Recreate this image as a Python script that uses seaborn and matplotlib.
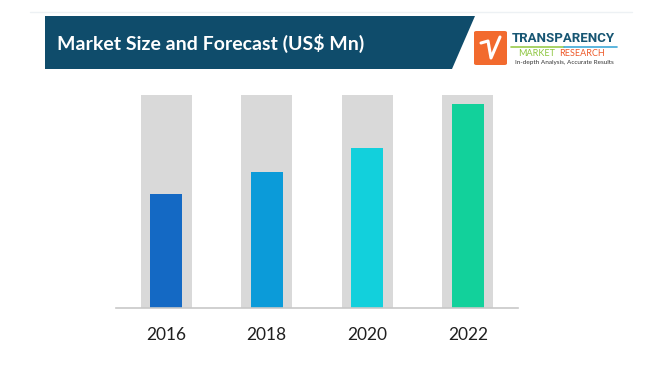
import matplotlib
matplotlib.use("Agg")
import matplotlib.pyplot as plt
import seaborn as sns
import pandas as pd
from matplotlib.patches import Polygon, FancyBboxPatch
from matplotlib.lines import Line2D

# ========================
# DATA (share of full scale)
# ========================
years = ["2016", "2018", "2020", "2022"]
market_size = [53.5, 64, 75, 96]
full_scale = [100, 100, 100, 100]
bar_colors = ["#1469c4", "#0b9bd9", "#12d0dc", "#12d19b"]

df = pd.DataFrame({"Year": years, "Size": market_size, "Scale": full_scale})

sns.set_style("white")
plt.rcParams["font.family"] = ["Lato", "DejaVu Sans"]

W, H = 650, 365
fig = plt.figure(figsize=(W / 100, H / 100), dpi=100)
fig.patch.set_facecolor("white")


def fx(x):
    return x / W


def fy(y):
    return 1 - y / H


# chart area
ax = fig.add_axes([fx(116), fy(308), fx(518) - fx(116), fy(95) - fy(308)])
sns.barplot(data=df, x="Year", y="Scale", color="#d9d9d9", width=0.51,
            saturation=1, linewidth=0, ax=ax)
sns.barplot(data=df, x="Year", y="Size", hue="Year", palette=bar_colors,
            width=0.32, saturation=1, linewidth=0, legend=False, ax=ax)
ax.set_ylim(0, 100)
ax.set_xlim(-0.5, len(years) - 0.5)
ax.set_xlabel("")
ax.set_ylabel("")
ax.set_yticks([])
for s in ["top", "right", "left"]:
    ax.spines[s].set_visible(False)
ax.spines["bottom"].set_color("#c8c8c8")
ax.spines["bottom"].set_linewidth(1.2)
ax.tick_params(axis="x", which="major", length=0, pad=14, labelsize=12.5,
               labelcolor="#1f1f1f")
ax.set_xticks([i - 0.5 for i in range(len(years) + 1)], minor=True)
ax.tick_params(axis="x", which="minor", length=5, width=1.0, color="#c8c8c8")
ax.patch.set_alpha(0)

# ========================
# HEADER BANNER
# ========================
fig.add_artist(Line2D([fx(30), fx(632)], [fy(12), fy(12)], color="#edf1f4",
                      lw=1, transform=fig.transFigure))
banner = Polygon([(fx(45), fy(16)), (fx(475), fy(16)), (fx(452), fy(69)),
                  (fx(45), fy(69))], closed=True, facecolor="#0f4c6b",
                 edgecolor="none", transform=fig.transFigure)
fig.add_artist(banner)
fig.text(fx(57), fy(43), "Market Size and Forecast (US$ Mn)", color="white",
         fontsize=14, fontweight="bold", va="center", ha="left")

# logo
logo = FancyBboxPatch((fx(474), fy(65)), fx(33), fy(31) - fy(65),
                      boxstyle="round,pad=0,rounding_size=0.004",
                      facecolor="#f26a2e", edgecolor="none",
                      transform=fig.transFigure)
fig.add_artist(logo)
fig.add_artist(Line2D([fx(481), fx(488), fx(491), fx(500)],
                      [fy(43), fy(41), fy(58), fy(37)], color="white", lw=2.2,
                      solid_capstyle="round", transform=fig.transFigure))
fig.text(fx(563), fy(38), "TRANSPARENCY", color="#175673", fontsize=9.5,
         fontweight="bold", ha="center", va="center", family="Roboto",
         fontstretch="condensed")
fig.add_artist(Line2D([fx(511), fx(564)], [fy(46.5), fy(46.5)],
                      color="#9acb4a", lw=1.2, transform=fig.transFigure))
fig.add_artist(Line2D([fx(564), fx(617)], [fy(46.5), fy(46.5)],
                      color="#3fa9d8", lw=1.2, transform=fig.transFigure))
fig.text(fx(555), fy(53.5), "MARKET", color="#8dc63f", fontsize=6.5,
         ha="right", va="center")
fig.text(fx(559), fy(53.5), "RESEARCH", color="#ee5a2a", fontsize=6.5,
         ha="left", va="center")
fig.text(fx(564), fy(62.5), "In-depth Analysis, Accurate Results",
         color="#333333", fontsize=4.6, ha="center", va="center")

plt.savefig("out.png", dpi=100)
